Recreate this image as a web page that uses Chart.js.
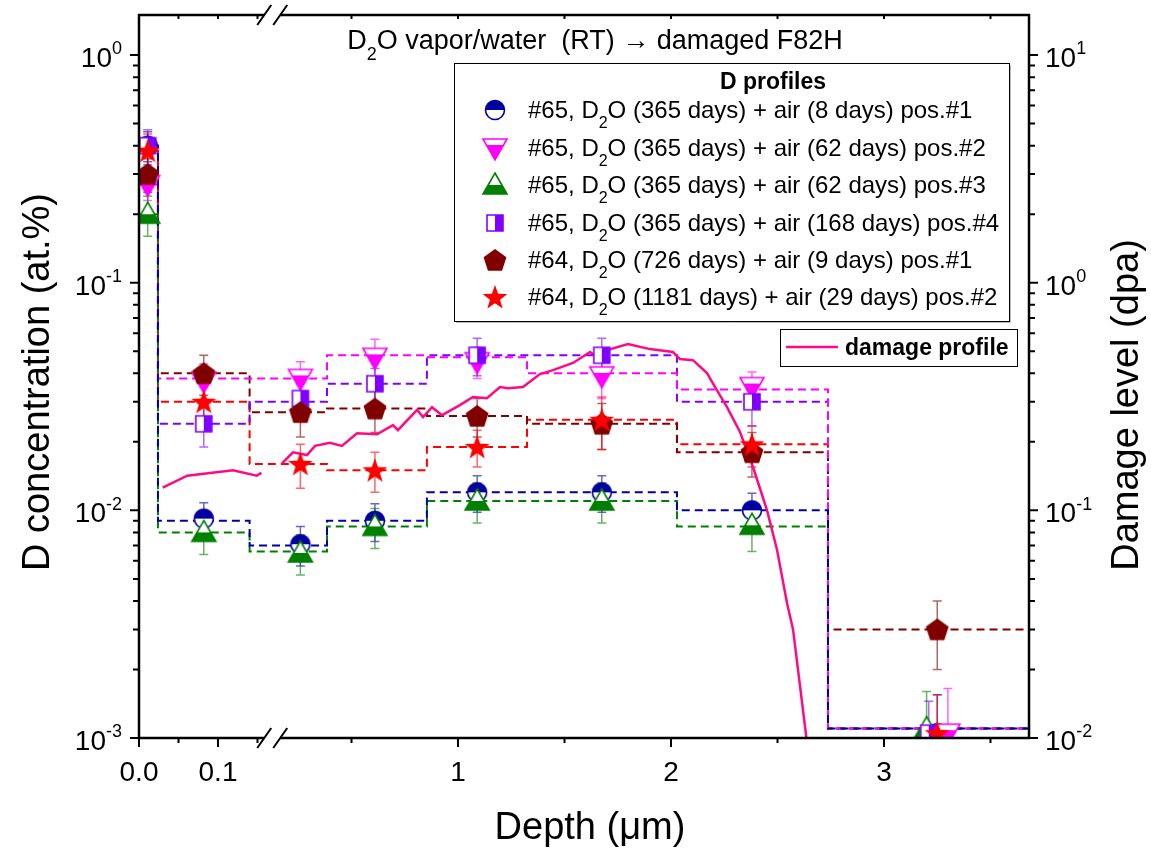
<!DOCTYPE html>
<html>
<head>
<meta charset="utf-8">
<script src="https://cdn.jsdelivr.net/npm/chart.js@4.4.1/dist/chart.umd.min.js"></script>
<style>
  html, body { margin: 0; padding: 0; background: #fff; }
</style>
</head>
<body>
<canvas id="chart" width="1151" height="848"></canvas>
<script>
// ---- data ----
// depth (um) of the measured points, layers 1..7 (last point per series below)
const markerDepth = [0.011, 0.082, 0.26, 0.61, 1.09, 1.675, 2.38];
const tailDepth = [3.25, 3.30, 3.20, 3.21, 3.25, 3.25];
// layer boundaries of the stepped profiles (um)
const layerEdges = [0, 0.024, 0.14, 0.385, 0.854, 1.324, 2.028, 2.737, 3.7];

const d65p1 = [0.40, 0.0092, 0.0071, 0.0090, 0.0120, 0.0120, 0.0100, 0.00105];
const e65p1 = [0.06, 0.0016, 0.0014, 0.0017, 0.0022, 0.0022, 0.0019, 0.0005];
const s65p1 = [0.40, 0.0090, 0.0070, 0.0090, 0.0120, 0.0120, 0.0100, 0.0011];

const d65p2 = [0.27, 0.037, 0.038, 0.047, 0.045, 0.039, 0.035, 0.00105];
const e65p2 = [0.04, 0.007, 0.007, 0.0095, 0.007, 0.008, 0.0055, 0.0006];
const s65p2 = [0.27, 0.038, 0.038, 0.048, 0.047, 0.040, 0.034, 0.0011];

const d65p3 = [0.20, 0.0080, 0.0065, 0.0085, 0.0110, 0.0110, 0.0086, 0.0011];
const e65p3 = [0.04, 0.0016, 0.0013, 0.0017, 0.0022, 0.0022, 0.0020, 0.0005];
const s65p3 = [0.20, 0.0080, 0.0066, 0.0085, 0.0110, 0.0110, 0.0085, 0.0011];

const d65p4 = [0.40, 0.024, 0.031, 0.036, 0.048, 0.048, 0.030, 0.00105];
const e65p4 = [0.07, 0.005, 0.005, 0.006, 0.009, 0.009, 0.0065, 0.0004];
const s65p4 = [0.40, 0.024, 0.030, 0.036, 0.048, 0.048, 0.030, 0.0011];

const d64p1 = [0.30, 0.040, 0.027, 0.028, 0.026, 0.024, 0.018, 0.0030];
const e64p1 = [0.05, 0.008, 0.006, 0.006, 0.005, 0.0055, 0.004, 0.001];
const s64p1 = [0.30, 0.040, 0.027, 0.028, 0.026, 0.024, 0.018, 0.0030];

const d64p2 = [0.38, 0.030, 0.016, 0.015, 0.019, 0.025, 0.0195, 0.00105];
const e64p2 = [0.07, 0.005, 0.0035, 0.003, 0.0035, 0.0065, 0.004, 0.0005];
const s64p2 = [0.38, 0.030, 0.016, 0.015, 0.019, 0.025, 0.0195, 0.0011];

// damage profile (dpa, right axis); null = axis break gap
const damageDepth = [0.030, 0.061, 0.119, 0.149, 0.155, 0.165, 0.174, 0.225, 0.291, 0.329, 0.399, 0.455,
  0.526, 0.620, 0.695, 0.718, 0.808, 0.836, 0.878, 0.925, 1.009, 1.070, 1.136, 1.197, 1.235, 1.305,
  1.385, 1.446, 1.540, 1.620, 1.653, 1.700, 1.798, 1.901, 2.009, 2.042, 2.103, 2.169, 2.207, 2.263,
  2.324, 2.385, 2.451, 2.498, 2.545, 2.573, 2.640];
const damageDpa = [0.126, 0.142, 0.150, 0.142, 0.146, null, 0.161, 0.180, 0.175, 0.192, 0.198, 0.192,
  0.218, 0.216, 0.237, 0.225, 0.276, 0.257, 0.284, 0.262, 0.290, 0.315, 0.311, 0.348, 0.344, 0.348,
  0.397, 0.413, 0.444, 0.496, 0.471, 0.506, 0.538, 0.511, 0.496, 0.462, 0.457, 0.401, 0.348, 0.284,
  0.221, 0.155, 0.100, 0.067, 0.039, 0.030, 0.0093];

const xMajorTicks = [0, 0.1, 1, 2, 3];
const xMajorLabels = ['0.0', '0.1', '1', '2', '3'];
const xMinorTicks = [0.05, 0.15, 0.5, 1.5, 2.5, 3.5];

const FONT = '"Liberation Sans", Arial, sans-serif';

// ---- broken x axis: 0..0.16 stretched, then 0.16.. compressed ----
const BREAK_AT = 0.16;
const LEFT_SCALE = 790 / 890;
const RIGHT_SCALE = 213 / 890;
const RIGHT_OFFSET = 106 / 890;

class BrokenLinearScale extends Chart.LinearScale {
  getPixelForValue(v) {
    if (v === null || v === undefined || isNaN(v)) return NaN;
    const f = v <= BREAK_AT ? v * LEFT_SCALE : RIGHT_OFFSET + v * RIGHT_SCALE;
    return this.left + f * this.width;
  }
  getValueForPixel(p) {
    const f = (p - this.left) / this.width;
    return f <= BREAK_AT * LEFT_SCALE ? f / LEFT_SCALE : (f - RIGHT_OFFSET) / RIGHT_SCALE;
  }
}
BrokenLinearScale.id = 'brokenLinear';
BrokenLinearScale.defaults = Chart.LinearScale.defaults;
Chart.register(BrokenLinearScale);

// ---- marker images ----
function makeMarker(draw) {
  const c = document.createElement('canvas');
  c.width = 30; c.height = 30;
  const g = c.getContext('2d');
  g.translate(15, 15);
  draw(g);
  return c;
}
function poly(g, pts) {
  g.beginPath();
  pts.forEach((p, i) => i ? g.lineTo(p[0], p[1]) : g.moveTo(p[0], p[1]));
  g.closePath();
}
function partFilled(color, pts, fillRect) {
  return makeMarker(g => {
    poly(g, pts); g.fillStyle = '#fff'; g.fill();
    g.save(); poly(g, pts); g.clip();
    g.fillStyle = color; g.fillRect(fillRect[0], fillRect[1], fillRect[2], fillRect[3]);
    g.restore();
    poly(g, pts); g.lineWidth = 1.6; g.strokeStyle = color; g.stroke();
  });
}
const markers = {
  halfCircle: c => makeMarker(g => {
    g.beginPath(); g.arc(0, 0, 9.5, 0, Math.PI * 2); g.fillStyle = '#fff'; g.fill();
    g.beginPath(); g.arc(0, 0, 9.5, Math.PI, Math.PI * 2); g.closePath(); g.fillStyle = c; g.fill();
    g.beginPath(); g.arc(0, 0, 9.5, 0, Math.PI * 2); g.lineWidth = 1.6; g.strokeStyle = c; g.stroke();
  }),
  downTri: c => partFilled(c, [[-12, -9], [12, -9], [0, 12]], [-15, -3, 30, 20]),
  upTri: c => partFilled(c, [[0, -12], [12, 9], [-12, 9]], [-15, 0, 30, 20]),
  halfSquare: c => partFilled(c, [[-8, -8], [8, -8], [8, 8], [-8, 8]], [0, -10, 10, 20]),
  pentagon: c => makeMarker(g => {
    const pts = [];
    for (let k = 0; k < 5; k++) {
      const a = -Math.PI / 2 + k * 2 * Math.PI / 5;
      pts.push([12 * Math.cos(a), 12 * Math.sin(a) + 1]);
    }
    poly(g, pts); g.fillStyle = c; g.fill();
  }),
  star: c => makeMarker(g => {
    const pts = [];
    for (let k = 0; k < 10; k++) {
      const a = -Math.PI / 2 + k * Math.PI / 5;
      const r = k % 2 ? 5.3 : 13;
      pts.push([r * Math.cos(a), r * Math.sin(a) + 1]);
    }
    poly(g, pts); g.fillStyle = c; g.fill();
  })
};

const series = [
  { label: '#65, D2O (365 days) + air (8 days) pos.#1', color: '#0000a0', marker: 'halfCircle', values: d65p1, errors: e65p1, steps: s65p1 },
  { label: '#65, D2O (365 days) + air (62 days) pos.#2', color: '#ff00ff', marker: 'downTri', values: d65p2, errors: e65p2, steps: s65p2 },
  { label: '#65, D2O (365 days) + air (62 days) pos.#3', color: '#008000', marker: 'upTri', values: d65p3, errors: e65p3, steps: s65p3 },
  { label: '#65, D2O (365 days) + air (168 days) pos.#4', color: '#8000ff', marker: 'halfSquare', values: d65p4, errors: e65p4, steps: s65p4 },
  { label: '#64, D2O (726 days) + air (9 days) pos.#1', color: '#800000', marker: 'pentagon', values: d64p1, errors: e64p1, steps: s64p1 },
  { label: '#64, D2O (1181 days) + air (29 days) pos.#2', color: '#ff0000', marker: 'star', values: d64p2, errors: e64p2, steps: s64p2 }
];
const damageColor = '#ff0a84';

function fade(hex, a) {
  const n = parseInt(hex.slice(1), 16);
  return `rgba(${n >> 16},${(n >> 8) & 255},${n & 255},${a})`;
}

const datasets = [];
series.forEach((s, i) => {
  s.image = markers[s.marker](s.color);
  const depths = markerDepth.concat([tailDepth[i]]);
  datasets.push({
    label: s.label,
    data: s.values.map((v, j) => ({ x: depths[j], y: v })),
    errors: s.errors,
    errorColor: fade(s.color, 0.6),
    showLine: false,
    pointStyle: s.image,
    pointRadius: 12,
    yAxisID: 'y',
    order: 6 - i
  });
  const stepData = s.steps.map((v, j) => ({ x: layerEdges[j], y: v }));
  stepData.push({ x: layerEdges[layerEdges.length - 1], y: s.steps[s.steps.length - 1] });
  datasets.push({
    label: s.label + ' profile',
    data: stepData,
    stepped: 'before',
    borderColor: s.color,
    borderWidth: 2,
    borderDash: [8, 5],
    pointRadius: 0,
    yAxisID: 'y',
    order: 20 + i
  });
});
datasets.push({
  label: 'damage profile',
  data: damageDepth.map((d, j) => ({ x: d, y: damageDpa[j] })),
  borderColor: damageColor,
  borderWidth: 2.5,
  pointRadius: 0,
  spanGaps: false,
  yAxisID: 'y2',
  order: 10
});

// ---- text helper with sub/superscripts ----
function richText(ctx, parts, x, y, size, opts) {
  const weight = opts.bold ? 'bold ' : '';
  const fontFor = m => weight + (m ? Math.round(size * 0.65) : size) + 'px ' + FONT;
  let w = 0;
  parts.forEach(([t, m]) => { ctx.font = fontFor(m); w += ctx.measureText(t).width; });
  let cx = opts.align === 'center' ? x - w / 2 : opts.align === 'right' ? x - w : x;
  const base = y + size * 0.35;
  ctx.textAlign = 'left';
  ctx.textBaseline = 'alphabetic';
  ctx.fillStyle = opts.color || '#000';
  parts.forEach(([t, m]) => {
    ctx.font = fontFor(m);
    const dy = m === 1 ? size * 0.4 : m === 2 ? -size * 0.45 : 0;
    ctx.fillText(t, cx, base + dy);
    cx += ctx.measureText(t).width;
  });
}
function withD2O(text) {
  const p = text.split('D2O');
  return [[p[0] + 'D', 0], ['2', 1], ['O' + p[1], 0]];
}

// ---- plugins ----
const errorBars = {
  id: 'errorBars',
  beforeDatasetsDraw(chart) {
    const ctx = chart.ctx;
    const x = chart.scales.x, y = chart.scales.y;
    const area = chart.chartArea;
    ctx.save();
    ctx.beginPath();
    ctx.rect(area.left, area.top, area.right - area.left, area.bottom - area.top);
    ctx.clip();
    chart.data.datasets.forEach(ds => {
      if (!ds.errors) return;
      ctx.strokeStyle = ds.errorColor;
      ctx.lineWidth = 1.5;
      ds.data.forEach((p, j) => {
        const px = x.getPixelForValue(p.x);
        const top = y.getPixelForValue(p.y + ds.errors[j]);
        const bot = y.getPixelForValue(Math.max(p.y - ds.errors[j], 1e-4));
        ctx.beginPath();
        ctx.moveTo(px, top); ctx.lineTo(px, bot);
        ctx.moveTo(px - 4.5, top); ctx.lineTo(px + 4.5, top);
        ctx.moveTo(px - 4.5, bot); ctx.lineTo(px + 4.5, bot);
        ctx.stroke();
      });
    });
    ctx.restore();
  }
};

const frameAndText = {
  id: 'frameAndText',
  afterDraw(chart) {
    const ctx = chart.ctx;
    const { left, right, top, bottom } = chart.chartArea;
    const x = chart.scales.x, y = chart.scales.y, y2 = chart.scales.y2;
    const bx = (x.getPixelForValue(BREAK_AT) + x.getPixelForValue(BREAK_AT + 1e-6)) / 2;
    ctx.save();
    ctx.strokeStyle = '#000';
    ctx.lineCap = 'butt';

    // frame with gap at the break
    ctx.lineWidth = 2.5;
    ctx.beginPath();
    ctx.moveTo(left, top - 1.2); ctx.lineTo(left, bottom + 1.2);
    ctx.moveTo(right, top - 1.2); ctx.lineTo(right, bottom + 1.2);
    [top, bottom].forEach(yy => {
      ctx.moveTo(left, yy); ctx.lineTo(bx - 8, yy);
      ctx.moveTo(bx + 8, yy); ctx.lineTo(right, yy);
    });
    ctx.stroke();
    ctx.lineWidth = 2;
    ctx.beginPath();
    [top, bottom].forEach(yy => {
      [-8, 8].forEach(off => {
        ctx.moveTo(bx + off - 7, yy + 10); ctx.lineTo(bx + off + 7, yy - 10);
      });
    });
    ctx.stroke();

    // x ticks
    ctx.lineWidth = 2;
    ctx.beginPath();
    xMajorTicks.forEach(v => {
      const px = x.getPixelForValue(v);
      ctx.moveTo(px, bottom); ctx.lineTo(px, bottom + 9);
      ctx.moveTo(px, top); ctx.lineTo(px, top + 4);
    });
    xMinorTicks.forEach(v => {
      const px = x.getPixelForValue(v);
      ctx.moveTo(px, bottom); ctx.lineTo(px, bottom + 5);
      ctx.moveTo(px, top); ctx.lineTo(px, top + 4);
    });
    // y ticks (left, concentration) and right (dpa)
    [[y, left, -1, -3, 0], [y2, right, 1, -2, 1]].forEach(([sc, ax, dir, d0, d1]) => {
      for (let d = d0; d <= d1; d++) {
        for (let m = 1; m <= 9; m++) {
          const v = m * Math.pow(10, d);
          if (v > sc.max * 1.0001) continue;
          const py = sc.getPixelForValue(v);
          ctx.moveTo(ax, py); ctx.lineTo(ax + dir * (m === 1 ? 9 : 6), py);
        }
      }
    });
    ctx.stroke();

    // tick labels
    xMajorTicks.forEach((v, i) => {
      richText(ctx, [[xMajorLabels[i], 0]], x.getPixelForValue(v), 771, 28, { align: 'center' });
    });
    for (let d = -3; d <= 0; d++) {
      richText(ctx, [['10', 0], [String(d), 2]], left - 17, y.getPixelForValue(Math.pow(10, d)) + 2, 28, { align: 'right' });
    }
    for (let d = -2; d <= 1; d++) {
      richText(ctx, [['10', 0], [String(d), 2]], right + 16, y2.getPixelForValue(Math.pow(10, d)) + 2, 28, { align: 'left' });
    }

    // axis titles
    richText(ctx, [['Depth (\u03bcm)', 0]], 590, 826, 38, { align: 'center' });
    ctx.save();
    ctx.translate(36, 382); ctx.rotate(-Math.PI / 2);
    richText(ctx, [['D concentration (at.%)', 0]], 0, 0, 38, { align: 'center' });
    ctx.restore();
    ctx.save();
    ctx.translate(1125, 405); ctx.rotate(-Math.PI / 2);
    richText(ctx, [['Damage level (dpa)', 0]], 0, 0, 38, { align: 'center' });
    ctx.restore();

    // title inside plot
    richText(ctx, [['D', 0], ['2', 1], ['O vapor/water  (RT) \u2192 damaged F82H', 0]], 595, 40, 27, { align: 'center' });

    // D profiles legend
    ctx.fillStyle = '#fff';
    ctx.fillRect(454, 63, 555, 258);
    ctx.strokeStyle = '#bbb'; ctx.lineWidth = 1;
    ctx.beginPath(); ctx.moveTo(456, 322.5); ctx.lineTo(1010.5, 322.5); ctx.lineTo(1010.5, 65); ctx.stroke();
    ctx.strokeStyle = '#000';
    ctx.strokeRect(454.5, 63.5, 555, 258);
    richText(ctx, [['D profiles', 0]], 773, 81, 23, { align: 'center', bold: true });
    const rowY = [110, 148, 185, 223, 260, 297];
    series.forEach((s, i) => {
      ctx.drawImage(s.image, 495 - 15, rowY[i] - 15);
      richText(ctx, withD2O(s.label), 528, rowY[i], 24, { align: 'left' });
    });

    // damage legend
    ctx.fillStyle = '#fff';
    ctx.fillRect(780, 329, 237, 37);
    ctx.strokeStyle = '#000'; ctx.lineWidth = 1;
    ctx.strokeRect(780.5, 329.5, 237, 37);
    ctx.strokeStyle = damageColor; ctx.lineWidth = 2.5;
    ctx.beginPath(); ctx.moveTo(786, 347); ctx.lineTo(838, 347); ctx.stroke();
    richText(ctx, [['damage profile', 0]], 845, 347, 23, { align: 'left', bold: true });
    ctx.restore();
  }
};

new Chart(document.getElementById('chart'), {
  type: 'line',
  data: { datasets },
  options: {
    responsive: false,
    animation: false,
    layout: { padding: { top: 15, left: 0, right: 0, bottom: 0 } },
    plugins: { legend: { display: false }, tooltip: { enabled: false } },
    scales: {
      x: {
        type: 'brokenLinear', min: 0, max: 3.681,
        ticks: { display: false }, grid: { display: false }, border: { display: false },
        afterFit: s => { s.height = 110; }
      },
      y: {
        type: 'logarithmic', position: 'left', min: 0.001, max: 1.5,
        ticks: { display: false }, grid: { display: false }, border: { display: false },
        afterFit: s => { s.width = 139; }
      },
      y2: {
        type: 'logarithmic', position: 'right', min: 0.01, max: 15,
        ticks: { display: false }, grid: { display: false }, border: { display: false },
        afterFit: s => { s.width = 122; }
      }
    }
  },
  plugins: [errorBars, frameAndText]
});
</script>
</body>
</html>
